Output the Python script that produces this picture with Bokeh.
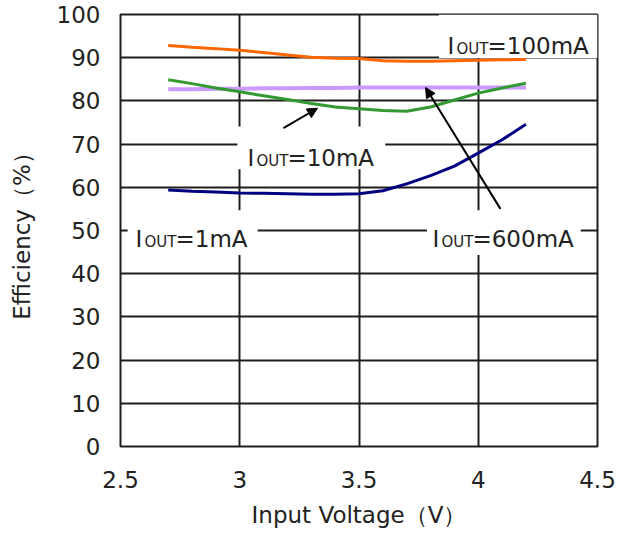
from bokeh.plotting import figure
from bokeh.models import Range1d, FixedTicker, NumeralTickFormatter, Arrow, NormalHead
from bokeh.core.properties import value
from bokeh.embed import file_html
from bokeh.resources import INLINE

# ---- data ----
voltage = [2.7, 2.8, 2.9, 3.0, 3.1, 3.2, 3.3, 3.4, 3.5, 3.6, 3.7, 3.8, 3.9, 4.0, 4.1, 4.2]
eff_1mA = [59.4, 59.1, 58.9, 58.7, 58.6, 58.5, 58.4, 58.4, 58.5, 59.2, 60.8, 62.7, 64.9, 67.9, 71.0, 74.6]
eff_10mA = [84.9, 84.0, 83.0, 82.1, 81.2, 80.3, 79.4, 78.6, 78.2, 77.8, 77.6, 78.6, 80.2, 81.8, 83.0, 84.1]
eff_100mA = [92.8, 92.4, 92.1, 91.7, 91.2, 90.6, 90.1, 89.9, 89.8, 89.3, 89.2, 89.2, 89.3, 89.4, 89.5, 89.6]
eff_600mA = [82.7, 82.7, 82.8, 82.8, 82.9, 82.9, 83.0, 83.0, 83.1, 83.1, 83.1, 83.1, 83.1, 83.1, 83.1, 83.1]

x_ticks = [2.5, 3, 3.5, 4, 4.5]
y_ticks = [0, 10, 20, 30, 40, 50, 60, 70, 80, 90, 100]

x_title = "Input Voltage（V）"
y_title = "Efficiency（%）"

label_main = "I"
label_sub = "OUT"
label_rest = ["=1mA", "=10mA", "=100mA", "=600mA"]

FONT = "DejaVu Sans"
TXT = "#222222"
GRID = "#1e1e1e"

p = figure(width=630, height=541, output_backend="svg", toolbar_location=None,
           x_range=Range1d(2.5, 4.5), y_range=Range1d(0, 100),
           min_border_left=120, min_border_right=33, min_border_top=14, min_border_bottom=95)
p.background_fill_color = "white"
p.border_fill_color = "white"
p.outline_line_color = GRID
p.outline_line_width = 2
p.outline_line_alpha = 1

for ax in (p.xaxis[0], p.yaxis[0]):
    ax.axis_line_color = None
    ax.major_tick_line_color = None
    ax.minor_tick_line_color = None
    ax.major_tick_out = 0
    ax.major_tick_in = 0
    ax.minor_tick_out = 0
    ax.minor_tick_in = 0
    ax.major_label_text_font = FONT
    ax.major_label_text_font_size = "23px"
    ax.major_label_text_color = TXT
    ax.axis_label_text_font = FONT
    ax.axis_label_text_font_size = "23px"
    ax.axis_label_text_font_style = "normal"
    ax.axis_label_text_color = TXT

p.xaxis.ticker = FixedTicker(ticks=x_ticks)
p.yaxis.ticker = FixedTicker(ticks=y_ticks)
p.xaxis.formatter = NumeralTickFormatter(format="0.[0]")
p.xaxis.major_label_standoff = 24
p.yaxis.major_label_standoff = 20
p.xaxis.axis_label = x_title
p.yaxis.axis_label = y_title
p.xaxis.axis_label_standoff = 11
p.yaxis.axis_label_standoff = 19

p.xgrid.ticker = FixedTicker(ticks=x_ticks)
p.ygrid.ticker = FixedTicker(ticks=y_ticks)
for g in (p.xgrid[0], p.ygrid[0]):
    g.grid_line_color = GRID
    g.grid_line_width = 2
    g.grid_line_alpha = 1

# white boxes behind the labels (cover grid lines)
boxes_left = [2.53, 2.99, 3.835, 3.785]
boxes_right = [3.075, 3.61, 4.5, 4.43]
boxes_bottom = [44.3, 64.2, 89.95, 44.3]
boxes_top = [54.7, 74.1, 100, 54.7]
p.quad(left=boxes_left, right=boxes_right, bottom=boxes_bottom, top=boxes_top,
       fill_color="white", line_color=None)

# curves
p.line(voltage, eff_600mA, line_color="#CC99FF", line_width=4)
p.line(voltage, eff_100mA, line_color="#FF6600", line_width=3)
p.line(voltage, eff_10mA, line_color="#339933", line_width=3)
p.line(voltage, eff_1mA, line_color="#000080", line_width=3)

# arrows
p.add_layout(Arrow(x_start=3.183, y_start=73.7, x_end=3.326, y_end=78.3,
                   line_color="black", line_width=2,
                   end=NormalHead(size=10, fill_color="black", line_color="black")))
p.add_layout(Arrow(x_start=4.093, y_start=55.0, x_end=3.779, y_end=83.1,
                   line_color="black", line_width=2,
                   end=NormalHead(size=10, fill_color="black", line_color="black")))

# labels  I_OUT=...
lab_x = [2.563, 3.032, 3.871, 3.808]
lab_y = [48.0, 66.7, 92.6, 48.0]
for lx, ly, rest in zip(lab_x, lab_y, label_rest):
    p.text(x=[lx], y=[ly], text=[label_main], text_font=value(FONT), text_font_size="23px",
           text_color=TXT, text_align="left", text_baseline="alphabetic")
    p.text(x=[lx], y=[ly], text=[label_sub], text_font=value(FONT), text_font_size="15px",
           text_color=TXT, text_align="left", text_baseline="alphabetic", x_offset=9, y_offset=3)
    p.text(x=[lx], y=[ly], text=[rest], text_font=value(FONT), text_font_size="23px",
           text_color=TXT, text_align="left", text_baseline="alphabetic", x_offset=40)

open("out.html", "w").write(file_html(p, INLINE))
